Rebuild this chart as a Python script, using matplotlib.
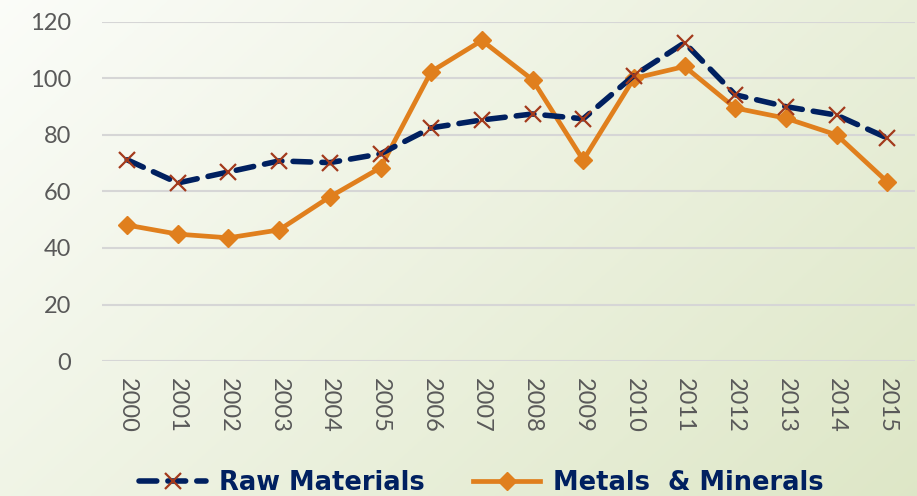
import numpy as np
import matplotlib.pyplot as plt

years = [str(y) for y in range(2000, 2016)]
raw_materials = [71.2, 63.0, 66.9, 70.8, 70.2, 73.3, 82.5, 85.3, 87.4, 85.7, 101.0, 112.6, 94.2, 90.0, 87.0, 78.9]
metals_minerals = [48.1, 44.9, 43.6, 46.4, 58.1, 68.4, 102.4, 113.4, 99.5, 71.1, 100.0, 104.2, 89.5, 85.9, 80.0, 63.4]
yticks = [0, 20, 40, 60, 80, 100, 120]

plt.rcParams['font.family'] = ['Lato', 'DejaVu Sans']

fig = plt.figure(figsize=(9.17, 4.96), dpi=100)

# gradient background: near white top-left to pale green bottom-right
bg = fig.add_axes([0, 0, 1, 1], zorder=-1)
gx, gy = np.meshgrid(np.linspace(0, 1, 200), np.linspace(0, 1, 200))
t = np.clip((gx * 0.75 + gy * 0.45) / 1.2, 0, 1)
c0 = np.array([0.985, 0.99, 0.975])
c1 = np.array([0.87, 0.905, 0.78])
img = c0[None, None, :] * (1 - t[..., None]) + c1[None, None, :] * t[..., None]
bg.imshow(img, aspect='auto', extent=[0, 1, 0, 1], origin='upper')
bg.axis('off')

ax = fig.add_axes([0.111, 0.272, 0.887, 0.684])
ax.patch.set_alpha(0)
x = np.arange(len(years))

ax.plot(x, raw_materials, color='#002060', lw=4.0, dashes=(3.2, 2.0),
        dash_capstyle='round', marker='x', markersize=11, markeredgewidth=1.6,
        markeredgecolor='#a33a1c', label='Raw Materials', clip_on=False, zorder=3)
ax.plot(x, metals_minerals, color='#e07f1d', lw=3.4, marker='D', markersize=9,
        markerfacecolor='#e07f1d', markeredgecolor='#e07f1d',
        label='Metals  & Minerals', clip_on=False, zorder=2)

ax.set_ylim(0, 120)
ax.set_xlim(-0.5, len(years) - 0.45)
ax.set_yticks(yticks)
ax.set_xticks(x)
ax.set_xticklabels(years, rotation=270)
ax.tick_params(axis='both', length=0, labelsize=17, labelcolor='#595959')
ax.tick_params(axis='y', pad=22)
ax.tick_params(axis='x', pad=12)
ax.grid(axis='y', color='#d6d6d6', lw=1.5)
ax.set_axisbelow(True)
for s in ax.spines.values():
    s.set_visible(False)

leg = fig.legend(loc='center', bbox_to_anchor=(0.525, 0.026), ncol=2, frameon=False,
                 handlelength=2.6, columnspacing=1.9, handletextpad=0.5,
                 prop={'family': 'DejaVu Sans', 'weight': 'bold', 'size': 18.5})
for txt in leg.get_texts():
    txt.set_color('#002060')

fig.savefig('out.png', dpi=100)
